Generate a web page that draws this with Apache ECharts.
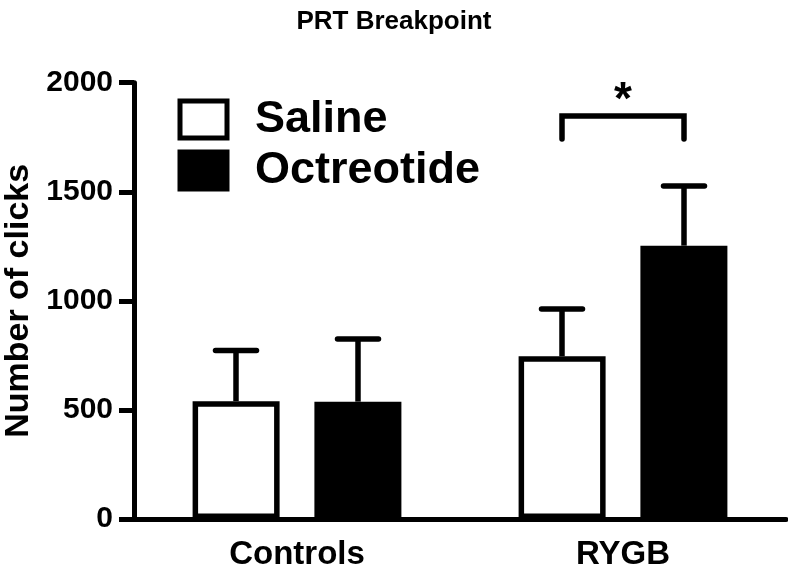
<!DOCTYPE html>
<html>
<head>
<meta charset="utf-8">
<script src="https://cdn.jsdelivr.net/npm/echarts@6/dist/echarts.min.js"></script>
<style>html,body{margin:0;padding:0;background:#fff}#c{width:788px;height:568px}</style>
</head>
<body>
<div id="c"></div>
<script>
const categories = ['Controls', 'RYGB'];
const salineMean = [540, 746];
const salineSem = [232, 217];
const octreotideMean = [538, 1253];
const octreotideSem = [287, 273];
const yTicks = [0, 500, 1000, 1500, 2000];
// significance bracket between RYGB groups: [categoryIndex, leg bottom, bar top, star]
const bracket = [[1, 1742, 1847, 1916]];

const FONT = '"Liberation Sans", Arial, Helvetica, sans-serif';
const BAR_OFFSET = 61;

function errRender(offset) {
  return function (params, api) {
    const cx = api.coord([api.value(0), 0])[0] + offset;
    const yBase = api.coord([api.value(0), api.value(1)])[1];
    const yTop = api.coord([api.value(0), api.value(1) + api.value(2)])[1];
    return {
      type: 'group',
      children: [
        { type: 'line', shape: { x1: cx, y1: yBase, x2: cx, y2: yTop }, style: { stroke: '#000', lineWidth: 5.5 } },
        { type: 'line', shape: { x1: cx - 20.5, y1: yTop, x2: cx + 20.5, y2: yTop }, style: { stroke: '#000', lineWidth: 5.5, lineCap: 'round' } }
      ]
    };
  };
}

const chart = echarts.init(document.getElementById('c'), null, { renderer: 'canvas' });
chart.setOption({
  animation: false,
  backgroundColor: '#fff',
  title: {
    text: 'PRT Breakpoint', left: 'center', top: 4,
    textStyle: { fontFamily: FONT, fontWeight: 'bold', fontSize: 26, color: '#000' }
  },
  legend: {
    data: ['Saline', 'Octreotide'],
    orient: 'vertical', left: 177.5, top: 97, padding: 0,
    itemWidth: 47, itemHeight: 37, itemGap: 6,
    icon: 'rect',
    itemStyle: { borderWidth: 5, borderColor: '#000' },
    textStyle: { fontFamily: FONT, fontWeight: 'bold', fontSize: 45, color: '#000', padding: [0, 0, 0, 23] }
  },
  grid: { left: 134, right: 2, top: 82.7, bottom: 49, containLabel: false, outerBoundsMode: 'none' },
  xAxis: {
    type: 'category', data: categories,
    axisLine: { lineStyle: { color: '#000', width: 5 } },
    axisTick: { alignWithLabel: true, length: 15, lineStyle: { color: '#000', width: 5 } },
    axisLabel: { fontFamily: FONT, fontWeight: 'bold', fontSize: 33, color: '#000', margin: 19 }
  },
  yAxis: {
    type: 'value', min: yTicks[0], max: yTicks[yTicks.length - 1], interval: yTicks[1] - yTicks[0],
    name: 'Number of clicks', nameLocation: 'middle', nameGap: 93,
    nameTextStyle: { fontFamily: FONT, fontWeight: 'bold', fontSize: 34, color: '#000' },
    axisLine: { show: true, lineStyle: { color: '#000', width: 5 } },
    axisTick: { show: true, length: 15, lineStyle: { color: '#000', width: 5 } },
    splitLine: { show: false },
    axisLabel: { fontFamily: FONT, fontWeight: 'bold', fontSize: 30, color: '#000', margin: 21,
      formatter: function (v) { return String(v); } }
  },
  series: [
    {
      name: 'Saline', type: 'bar', data: salineMean, barWidth: 87, barGap: '40%', z: 3,
      itemStyle: { color: '#fff', borderColor: '#000', borderWidth: 5.5 }
    },
    {
      name: 'Octreotide', type: 'bar', data: octreotideMean, barWidth: 87, barGap: '40%', z: 3,
      itemStyle: { color: '#000', borderColor: '#000', borderWidth: 5.5 }
    },
    {
      type: 'custom', z: 2, renderItem: errRender(-BAR_OFFSET),
      data: categories.map((c, i) => [i, salineMean[i], salineSem[i]])
    },
    {
      type: 'custom', z: 2, renderItem: errRender(BAR_OFFSET),
      data: categories.map((c, i) => [i, octreotideMean[i], octreotideSem[i]])
    },
    {
      type: 'custom', z: 4, data: bracket,
      renderItem: function (params, api) {
        const cx = api.coord([api.value(0), 0])[0];
        const yLeg = api.coord([api.value(0), api.value(1)])[1];
        const yBar = api.coord([api.value(0), api.value(2)])[1];
        const yStar = api.coord([api.value(0), api.value(3)])[1];
        return {
          type: 'group',
          children: [
            { type: 'polyline', shape: { points: [[cx - BAR_OFFSET, yLeg], [cx - BAR_OFFSET, yBar], [cx + BAR_OFFSET, yBar], [cx + BAR_OFFSET, yLeg]] },
              style: { stroke: '#000', lineWidth: 5.5, fill: null, lineCap: 'round', lineJoin: 'miter' } },
            { type: 'text', x: cx, y: yStar,
              style: { text: '*', fontFamily: FONT, fontWeight: 'bold', fontSize: 46, fill: '#000', align: 'center', verticalAlign: 'middle' } }
          ]
        };
      }
    }
  ]
});
</script>
</body>
</html>
